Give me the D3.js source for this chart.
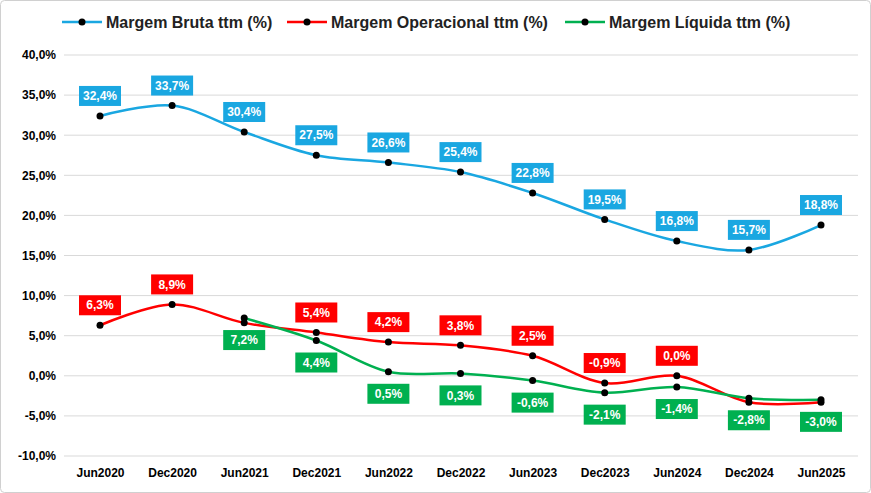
<!DOCTYPE html><html><head><script src="https://d3js.org/d3.v7.min.js"></script>
<style>body{margin:0;background:#fff}text{font-family:"Liberation Sans",Arial,sans-serif;font-weight:bold}</style></head><body>
<svg id="c" width="871" height="493"></svg>
<script>
const categories=["Jun2020","Dec2020","Jun2021","Dec2021","Jun2022","Dec2022","Jun2023","Dec2023","Jun2024","Dec2024","Jun2025"];
const bruta=[32.4,33.7,30.4,27.5,26.6,25.4,22.8,19.5,16.8,15.7,18.8];
const operacional=[6.3,8.9,6.6,5.4,4.2,3.8,2.5,-0.9,0.0,-3.3,-3.3];
const liquida=[null,null,7.2,4.4,0.5,0.3,-0.6,-2.1,-1.4,-2.8,-3.0];
const opLabelShown=[1,1,0,1,1,1,1,1,1,0,0];
const yTicks=[-10,-5,0,5,10,15,20,25,30,35,40];
const series=[
 {name:"Margem Bruta ttm (%)",data:bruta,color:"#1AA7E1",pos:"above",show:bruta.map(()=>1)},
 {name:"Margem Operacional ttm (%)",data:operacional,color:"#FF0000",pos:"above",show:opLabelShown},
 {name:"Margem Líquida ttm (%)",data:liquida,color:"#00B050",pos:"below",show:liquida.map(()=>1)}];
const svg=d3.select("#c");
svg.append("rect").attr("x",0.5).attr("y",0.5).attr("width",870).attr("height",492).attr("rx",4).attr("fill","#fff").attr("stroke","#d0d0d0");
const x=d3.scalePoint().domain(categories).range([100,821]);
const y=d3.scaleLinear().domain([-10,40]).range([456,55]);
const fmt=v=>v.toFixed(1).replace(".",",")+"%";
svg.append("g").selectAll("line").data(yTicks).join("line").attr("x1",64).attr("x2",858)
 .attr("y1",d=>y(d)).attr("y2",d=>y(d)).attr("stroke","#d9d9d9");
const ya=svg.append("g").attr("transform","translate(64,0)").call(d3.axisLeft(y).tickValues(yTicks).tickFormat(fmt).tickSize(0).tickPadding(8));
ya.select(".domain").remove();ya.selectAll("text").attr("font-size",12).attr("fill","#000").style("font-family","Liberation Sans").style("font-weight","bold");
const xa=svg.append("g").attr("transform","translate(0,468)").call(d3.axisBottom(x).tickSize(0).tickPadding(0));
xa.select(".domain").remove();xa.selectAll("text").attr("font-size",12).attr("fill","#000").style("font-family","Liberation Sans").style("font-weight","bold");
const line=d3.line().defined(d=>d.v!=null).x(d=>x(d.c)).y(d=>y(d.v)).curve(d3.curveCatmullRom.alpha(0.5));
series.forEach(s=>{
 const pts=categories.map((c,i)=>({c,v:s.data[i],show:s.show[i]}));
 svg.append("path").attr("d",line(pts.filter(p=>p.v!=null))).attr("fill","none").attr("stroke",s.color).attr("stroke-width",2.5);
});
series.forEach(s=>{
 const pts=categories.map((c,i)=>({c,v:s.data[i],show:s.show[i]})).filter(p=>p.v!=null);
 svg.append("g").selectAll("circle").data(pts).join("circle").attr("cx",d=>x(d.c)).attr("cy",d=>y(d.v)).attr("r",3.5).attr("fill","#000");
 const g=svg.append("g").selectAll("g").data(pts.filter(p=>p.show)).join("g")
  .attr("transform",d=>`translate(${x(d.c)},${y(d.v)+(s.pos=="above"?-20:22)})`);
 g.append("rect").attr("x",-21).attr("y",-10).attr("width",42).attr("height",20).attr("fill",s.color);
 g.append("text").attr("text-anchor","middle").attr("dy","0.35em").attr("fill","#fff").attr("font-size",12).text(d=>fmt(d.v));
});
const lx=[62,287,565];
series.forEach((s,i)=>{
 const g=svg.append("g").attr("transform",`translate(${lx[i]},22)`);
 g.append("line").attr("x1",0).attr("x2",40).attr("stroke",s.color).attr("stroke-width",2.5);
 g.append("circle").attr("cx",20).attr("r",3.5).attr("fill","#000");
 g.append("text").attr("x",44).attr("dy","0.35em").attr("font-size",16).attr("fill","#222").text(s.name);
});
</script></body></html>
